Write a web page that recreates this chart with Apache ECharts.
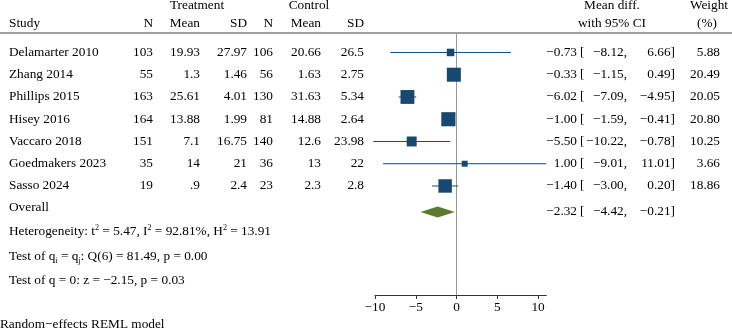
<!DOCTYPE html>
<html>
<head>
<meta charset="utf-8">
<script src="https://cdn.jsdelivr.net/npm/echarts@6/dist/echarts.min.js"></script>
<style>
html, body { margin: 0; padding: 0; background: #fff; }
#forest { width: 732px; height: 332px; }
</style>
</head>
<body>
<div id="forest"></div>
<script>
// 研究数据
var studies = ['Delamarter 2010', 'Zhang 2014', 'Phillips 2015', 'Hisey 2016', 'Vaccaro 2018', 'Goedmakers 2023', 'Sasso 2024'];
var treatN = [103, 55, 163, 164, 151, 35, 19];
var treatMean = [19.93, 1.3, 25.61, 13.88, 7.1, 14, 0.9];
var treatSD = [27.97, 1.46, 4.01, 1.99, 16.75, 21, 2.4];
var ctrlN = [106, 56, 130, 81, 140, 36, 23];
var ctrlMean = [20.66, 1.63, 31.63, 14.88, 12.6, 13, 2.3];
var ctrlSD = [26.5, 2.75, 5.34, 2.64, 23.98, 22, 2.8];
var effect = [-0.73, -0.33, -6.02, -1.00, -5.50, 1.00, -1.40];
var ciLow = [-8.12, -1.15, -7.09, -1.59, -10.22, -9.01, -3.00];
var ciHigh = [6.66, 0.49, -4.95, -0.41, -0.78, 11.01, 0.20];
var weight = [5.88, 20.49, 20.05, 20.80, 10.25, 3.66, 18.86];
// 合并效应 [估计, 下限, 上限]
var overall = [-2.32, -4.42, -0.21];
var xTicks = [-10, -5, 0, 5, 10];

var FONT = '"Liberation Serif", "Times New Roman", serif';
var FS = 13.3;
var NAVY = '#1a476f';
var OLIVE = '#5a7a2e';
var overallRow = 7.17;

var chart = echarts.init(document.getElementById('forest'));

// 数字格式
function minus(s) { return s.replace('-', '\u2212'); }
function plain(v) { return String(v).replace(/^0\./, '.'); }
function f2(v) { return minus(v.toFixed(2)); }

function txt(x, y, s, align) {
	return {
		type: 'text', x: x, y: y,
		style: { text: s, fontSize: FS, fontFamily: FONT, fill: '#000', align: align || 'right', verticalAlign: 'middle' }
	};
}

// 表格文字
function renderRow(params, api) {
	var i = params.dataIndex;
	var y = api.coord([0, i])[1];
	return {
		type: 'group',
		children: [
			txt(9, y, studies[i], 'left'),
			txt(153, y, plain(treatN[i])),
			txt(200, y, plain(treatMean[i])),
			txt(247, y, plain(treatSD[i])),
			txt(273, y, plain(ctrlN[i])),
			txt(321, y, plain(ctrlMean[i])),
			txt(364, y, plain(ctrlSD[i])),
			txt(577, y, f2(effect[i])),
			txt(580, y, '[', 'left'),
			txt(627, y, f2(ciLow[i]) + ','),
			txt(675, y, f2(ciHigh[i]) + ']'),
			txt(720, y, weight[i].toFixed(2))
		]
	};
}

// 置信区间和方块
function renderCI(params, api) {
	var i = params.dataIndex;
	var p0 = api.coord([ciLow[i], i]);
	var p1 = api.coord([ciHigh[i], i]);
	var c = api.coord([effect[i], i]);
	var s = 3.1 * Math.sqrt(weight[i]);
	return {
		type: 'group',
		children: [
			{ type: 'line', shape: { x1: p0[0], y1: p0[1], x2: p1[0], y2: p1[1] }, style: { stroke: NAVY, lineWidth: 1 } },
			{ type: 'rect', shape: { x: c[0] - s / 2, y: c[1] - s / 2, width: s, height: s }, style: { fill: NAVY } }
		]
	};
}

// 合并效应菱形
function renderDiamond(params, api) {
	var lo = api.coord([overall[1], overallRow]);
	var mid = api.coord([overall[0], overallRow]);
	var hi = api.coord([overall[2], overallRow]);
	var h = 5.5;
	return {
		type: 'group',
		children: [
			{ type: 'polygon', shape: { points: [[lo[0], lo[1]], [mid[0], mid[1] - h], [hi[0], hi[1]], [mid[0], mid[1] + h]] }, style: { fill: OLIVE } },
			txt(577, mid[1], f2(overall[0])),
			txt(580, mid[1], '[', 'left'),
			txt(627, mid[1], f2(overall[1]) + ','),
			txt(675, mid[1], f2(overall[2]) + ']'),
			txt(9, mid[1] - 4, 'Overall', 'left')
		]
	};
}

var rows = studies.map(function (s, i) { return [effect[i], i]; });

function gtext(x, y, s, align, rich) {
	return {
		type: 'text', x: x, y: y,
		style: {
			text: s, fontSize: FS, fontFamily: FONT, fill: '#000',
			align: align || 'left', verticalAlign: 'middle', lineHeight: 16, rich: rich
		}
	};
}
var richTxt = {
	sup: { fontSize: 8, fontFamily: FONT, verticalAlign: 'top', lineHeight: 9 },
	sub: { fontSize: 8, fontFamily: FONT, verticalAlign: 'bottom', lineHeight: 9 }
};

var option = {
	animation: false,
	textStyle: { fontFamily: FONT },
	grid: { left: 375, right: 185.7, top: 34, bottom: 37 },
	xAxis: {
		type: 'value', min: -10, max: 11.01,
		splitLine: { show: false },
		axisLine: { show: true, onZero: false, lineStyle: { color: '#333', width: 1 } },
		axisTick: { show: true, length: 4, customValues: xTicks, lineStyle: { color: '#333' } },
		axisLabel: {
			customValues: xTicks, margin: 6, fontSize: FS, fontFamily: FONT, color: '#000',
			formatter: function (v) { return minus(String(v)); }
		}
	},
	yAxis: {
		type: 'value', inverse: true, min: -0.83, max: 10.9,
		splitLine: { show: false },
		axisTick: { show: false },
		axisLabel: { show: false },
		axisLine: { show: true, onZero: true, lineStyle: { color: '#999', width: 1 } }
	},
	graphic: [
		gtext(197, 6, 'Treatment', 'center'),
		gtext(309, 6, 'Control', 'center'),
		gtext(612, 6, 'Mean diff.', 'center'),
		gtext(709, 6, 'Weight', 'center'),
		gtext(9, 23.5, 'Study'),
		gtext(153, 23.5, 'N', 'right'),
		gtext(200, 23.5, 'Mean', 'right'),
		gtext(247, 23.5, 'SD', 'right'),
		gtext(273, 23.5, 'N', 'right'),
		gtext(321, 23.5, 'Mean', 'right'),
		gtext(364, 23.5, 'SD', 'right'),
		gtext(612, 23.5, 'with 95% CI', 'center'),
		gtext(707, 23.5, '(%)', 'center'),
		{ type: 'line', shape: { x1: 0, y1: 33, x2: 732, y2: 33 }, style: { stroke: '#808080', lineWidth: 1.5 } },
		gtext(9, 232, 'Heterogeneity: t{sup|2} = 5.47, I{sup|2} = 92.81%, H{sup|2} = 13.91', 'left', richTxt),
		gtext(9, 257, 'Test of q{sub|i} = q{sub|j}: Q(6) = 81.49, p = 0.00', 'left', richTxt),
		gtext(9, 281, 'Test of q = 0: z = \u22122.15, p = 0.03', 'left', richTxt),
		gtext(0, 325, 'Random\u2212effects REML model')
	],
	series: [
		{ type: 'custom', renderItem: renderCI, data: rows, encode: { x: 0, y: 1 }, clip: false, z: 3 },
		{ type: 'custom', renderItem: renderRow, data: rows, encode: { x: 0, y: 1 }, clip: false, z: 4 },
		{ type: 'custom', renderItem: renderDiamond, data: [[overall[0], overallRow]], encode: { x: 0, y: 1 }, clip: false, z: 3 }
	]
};

chart.setOption(option);
</script>
</body>
</html>
